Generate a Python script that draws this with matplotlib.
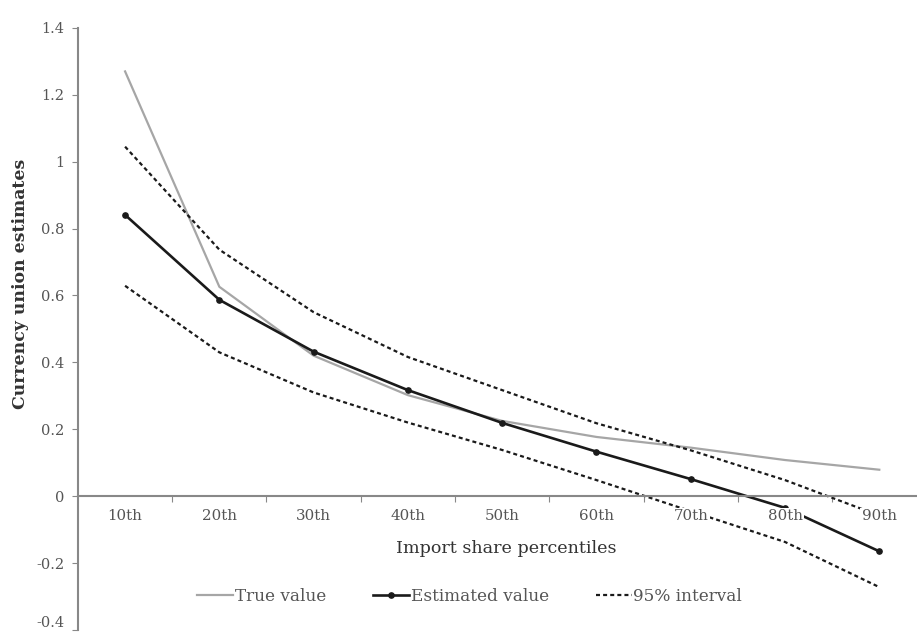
import matplotlib
matplotlib.use("Agg")
import matplotlib.pyplot as plt
from matplotlib.ticker import FixedLocator, NullFormatter

percentiles = ["10th", "20th", "30th", "40th", "50th", "60th", "70th", "80th", "90th"]
true_value = [1.27, 0.626, 0.42, 0.302, 0.225, 0.177, 0.145, 0.108, 0.079]
estimated = [0.841, 0.587, 0.432, 0.317, 0.219, 0.133, 0.051, -0.035, -0.165]
upper_95 = [1.045, 0.737, 0.55, 0.416, 0.317, 0.218, 0.137, 0.048, -0.058]
lower_95 = [0.629, 0.43, 0.31, 0.22, 0.138, 0.048, -0.045, -0.137, -0.272]

plt.rcParams['font.family'] = ['DejaVu Serif']
text_col = '#555555'

fig = plt.figure(figsize=(9.17, 6.35), dpi=100)
ax = fig.add_axes([0.085, 0.008, 0.915, 0.948])

x = list(range(len(percentiles)))
ax.plot(x, true_value, color='#a6a6a6', lw=1.6, label='True value')
ax.plot(x, estimated, color='#1a1a1a', lw=1.9, marker='o', ms=3.8, label='Estimated value')
ax.plot(x, upper_95, color='#1a1a1a', lw=1.6, ls=(0, (1.8, 1.4)), label='95% interval')
ax.plot(x, lower_95, color='#1a1a1a', lw=1.6, ls=(0, (1.8, 1.4)))

ax.set_xlim(-0.5, 8.4)
ax.set_ylim(-0.4, 1.4)
ax.set_yticks([-0.4, -0.2, 0, 0.2, 0.4, 0.6, 0.8, 1, 1.2, 1.4])
ax.set_yticklabels(['-0.4', '-0.2', '0', '0.2', '0.4', '0.6', '0.8', '1', '1.2', '1.4'])
# keep the bottom label inside the figure
ax.get_yticklabels()[0].set_va('bottom')

# category boundaries as ticks on the zero line
ax.xaxis.set_major_locator(FixedLocator([i + 0.5 for i in range(9)]))
ax.xaxis.set_major_formatter(NullFormatter())
ax.tick_params(axis='x', direction='out', length=4, color='#888888')
ax.tick_params(axis='y', direction='out', length=4, color='#888888', labelsize=10.5,
               labelcolor=text_col, pad=6)

# category labels sit on top of the lines, like the original
for i, lab in enumerate(percentiles):
    ax.annotate(lab, xy=(i, 0), xytext=(0, -9.5), textcoords='offset points',
                ha='center', va='top', fontsize=10.8, color=text_col, zorder=5,
                bbox=dict(facecolor='white', edgecolor='none', pad=1))

ax.spines['top'].set_visible(False)
ax.spines['right'].set_visible(False)
ax.spines['bottom'].set_position(('data', 0))
for s in ['left', 'bottom']:
    ax.spines[s].set_color('#888888')
    ax.spines[s].set_linewidth(1.5)

ax.set_xlabel('Import share percentiles', fontsize=12.6, color='#333333')
ax.xaxis.set_label_coords(0.511, 0.149)
ax.set_ylabel('Currency union estimates', fontsize=12.4, color='#333333', fontweight='bold')
ax.yaxis.set_label_coords(-0.058, 0.575)

leg = ax.legend(loc='center', bbox_to_anchor=(0.467, 0.055), ncol=3, frameon=False,
                fontsize=12.2, handlelength=2.1, handletextpad=0.1, columnspacing=2.8)
for t in leg.get_texts():
    t.set_color(text_col)

fig.savefig('out.png', dpi=100)
